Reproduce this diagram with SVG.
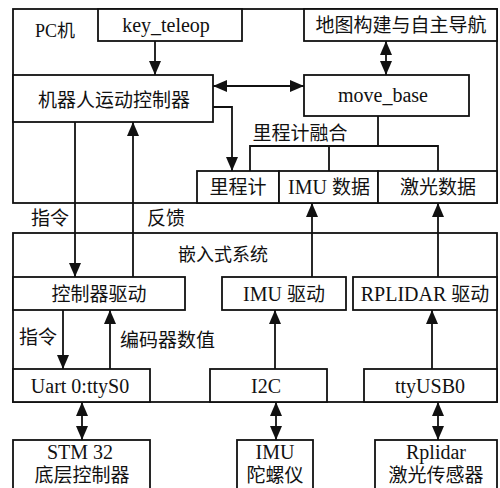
<svg xmlns="http://www.w3.org/2000/svg" width="500" height="488" viewBox="0 0 500 488">
<defs>
<marker id="ah" viewBox="0 0 14 12" refX="14" refY="6" markerWidth="14" markerHeight="12" markerUnits="userSpaceOnUse" orient="auto-start-reverse">
<path d="M0,0 L14,6 L0,12 Z" fill="#111"/>
</marker>
</defs>
<style>
.b{fill:#fff;stroke:#111;stroke-width:1.8}
.f{fill:none;stroke:#111;stroke-width:1.8}
.l{fill:none;stroke:#111;stroke-width:1.8}
.a{marker-end:url(#ah)}
.d{marker-start:url(#ah);marker-end:url(#ah)}
text{font-family:"Liberation Serif","Noto Sans CJK SC",serif;font-size:20px;fill:#111;text-anchor:middle;dominant-baseline:central}
.c{font-size:19px}
.s{text-anchor:start}
</style>
<rect width="500" height="488" fill="#fff"/>
<g id="pc-frame"><rect class="f" x="13" y="9" width="484" height="194"/><text x="55" y="31" style="font-size:18px">PC机</text></g>
<g id="embedded-frame"><rect class="f" x="13" y="233" width="484" height="169"/><text x="223" y="255" style="font-size:18px">嵌入式系统</text></g>
<g id="key_teleop"><rect class="b" x="98" y="9" width="144" height="32"/><text x="166" y="25">key_teleop</text></g>
<g id="nav"><rect class="b" x="304" y="9" width="193" height="32"/><text x="401" y="25" class="c">地图构建与自主导航</text></g>
<g id="robot-ctrl"><rect class="b" x="13" y="75" width="200" height="47"/><text x="114" y="100" class="c">机器人运动控制器</text></g>
<g id="move_base"><rect class="b" x="304" y="75" width="165" height="41"/><text x="383" y="95">move_base</text></g>
<g id="odom"><rect class="b" x="197" y="171" width="82" height="32"/><text x="238" y="187" class="c">里程计</text></g>
<g id="imu-data"><rect class="b" x="279" y="171" width="99" height="32"/><text x="329" y="187">IMU <tspan class="c">数据</tspan></text></g>
<g id="laser-data"><rect class="b" x="378" y="171" width="119" height="32"/><text x="438" y="187" class="c">激光数据</text></g>
<g id="ctrl-driver"><rect class="b" x="13" y="277" width="172" height="33"/><text x="99" y="294" class="c">控制器驱动</text></g>
<g id="imu-driver"><rect class="b" x="222" y="277" width="124" height="33"/><text x="284" y="294">IMU <tspan class="c">驱动</tspan></text></g>
<g id="rplidar-driver"><rect class="b" x="353" y="277" width="144" height="33"/><text x="425" y="294">RPLIDAR <tspan class="c">驱动</tspan></text></g>
<g id="uart"><rect class="b" x="13" y="369" width="137" height="33"/><text x="80" y="386">Uart 0:ttyS0</text></g>
<g id="i2c"><rect class="b" x="210" y="369" width="117" height="33"/><text x="266" y="386">I2C</text></g>
<g id="ttyusb"><rect class="b" x="364" y="369" width="133" height="33"/><text x="430" y="386">ttyUSB0</text></g>
<g id="stm32"><rect class="b" x="13" y="440" width="137" height="52"/><text x="80" y="452">STM 32</text><text x="82" y="475" class="c">底层控制器</text></g>
<g id="imu-gyro"><rect class="b" x="237" y="440" width="76" height="52"/><text x="275" y="452">IMU</text><text x="275" y="475" class="c">陀螺仪</text></g>
<g id="rplidar"><rect class="b" x="375" y="440" width="122" height="52"/><text x="436" y="452">Rplidar</text><text x="436" y="475" class="c">激光传感器</text></g>
<g id="labels">
<text x="50" y="218" class="c">指令</text>
<text x="166" y="218" class="c">反馈</text>
<text x="300" y="133" class="c">里程计融合</text>
<text x="38" y="337" class="c">指令</text>
<text class="s c" x="120" y="340">编码器数值</text>
</g>
<g id="connectors">
<line class="l a" x1="155" y1="41" x2="155" y2="75"/>
<line class="l d" x1="213" y1="86" x2="304" y2="86"/>
<line class="l d" x1="386" y1="41" x2="386" y2="75"/>
<path class="l a" d="M213,107 H232 V171"/>
<path class="l" d="M378,116 V146 M250,171 V146 H438 V171 M329,146 V171"/>
<line class="l a" x1="312" y1="277" x2="312" y2="203"/>
<line class="l a" x1="438" y1="277" x2="438" y2="203"/>
<line class="l a" x1="75" y1="122" x2="75" y2="277"/>
<line class="l a" x1="133" y1="277" x2="133" y2="122"/>
<line class="l a" x1="63" y1="310" x2="63" y2="369"/>
<line class="l a" x1="110" y1="369" x2="110" y2="310"/>
<line class="l a" x1="275" y1="369" x2="275" y2="310"/>
<line class="l a" x1="432" y1="369" x2="432" y2="310"/>
<line class="l d" x1="82" y1="402" x2="82" y2="440"/>
<line class="l d" x1="276" y1="402" x2="276" y2="440"/>
<line class="l d" x1="438" y1="402" x2="438" y2="440"/>
</g>
</svg>
